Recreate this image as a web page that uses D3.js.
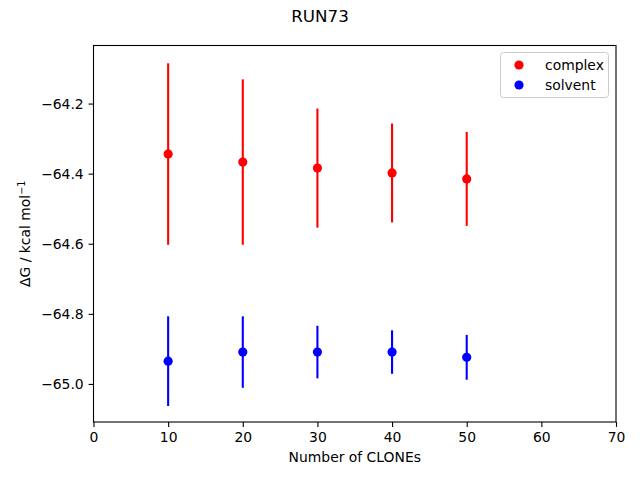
<!DOCTYPE html>
<html>
<head>
<meta charset="utf-8">
<script src="https://cdn.jsdelivr.net/npm/d3@7"></script>
<style>
  body { margin: 0; background: #fff; }
  svg text { font-family: "DejaVu Sans", sans-serif; fill: #000; }
</style>
</head>
<body>
<svg id="chart" width="640" height="480"></svg>
<script>
// number of clones
const clones = [10, 20, 30, 40, 50];

// complex leg
const complexMean = [-64.344, -64.367, -64.384, -64.398, -64.415];
const complexErr = [0.259, 0.236, 0.170, 0.141, 0.134];

// solvent leg
const solventMean = [-64.935, -64.909, -64.909, -64.909, -64.924];
const solventErr = [0.128, 0.102, 0.075, 0.062, 0.064];

const xTicks = [0, 10, 20, 30, 40, 50, 60, 70];
const yTicks = [-64.2, -64.4, -64.6, -64.8, -65.0];

const svg = d3.select("#chart");
const margin = { left: 93.5, right: 616, top: 45.5, bottom: 422 };

const x = d3.scaleLinear().domain([0, 70]).range([margin.left, margin.right]);
const y = d3.scaleLinear().domain([-65.1086, -64.0343]).range([margin.bottom, margin.top]);

// axes
svg.append("g")
  .attr("transform", `translate(0,${margin.bottom})`)
  .call(d3.axisBottom(x).tickValues(xTicks).tickSize(4.9).tickPadding(4.9).tickFormat(d3.format("d")))
  .call((g) => g.select(".domain").remove());

svg.append("g")
  .attr("transform", `translate(${margin.left},0)`)
  .call(d3.axisLeft(y).tickValues(yTicks).tickSize(4.9).tickPadding(4.9)
    .tickFormat((d) => d3.format(".1f")(d).replace("-", "\u2212")))
  .call((g) => g.select(".domain").remove());

svg.selectAll(".tick text").style("font-size", "13.9px").style("font-family", "DejaVu Sans");
svg.selectAll(".tick line").attr("stroke", "#000").attr("stroke-width", 1.1);

function drawSeries(means, errs, colour) {
  const g = svg.append("g");
  g.selectAll("line")
    .data(clones)
    .join("line")
    .attr("x1", (d) => x(d))
    .attr("x2", (d) => x(d))
    .attr("y1", (d, i) => y(means[i] - errs[i]))
    .attr("y2", (d, i) => y(means[i] + errs[i]))
    .attr("stroke", colour)
    .attr("stroke-width", 2.1);
  g.selectAll("circle")
    .data(clones)
    .join("circle")
    .attr("cx", (d) => x(d))
    .attr("cy", (d, i) => y(means[i]))
    .attr("r", 4.6)
    .attr("fill", colour);
}

drawSeries(complexMean, complexErr, "#ff0000");
drawSeries(solventMean, solventErr, "#0000ff");

// frame
svg.append("rect")
  .attr("x", margin.left)
  .attr("y", margin.top)
  .attr("width", margin.right - margin.left)
  .attr("height", margin.bottom - margin.top)
  .attr("fill", "none")
  .attr("stroke", "#000")
  .attr("stroke-width", 1.1);

// legend
const legend = svg.append("g");
legend.append("rect")
  .attr("x", 500.5).attr("y", 52.5)
  .attr("width", 108).attr("height", 45)
  .attr("rx", 3)
  .attr("fill", "#fff").attr("fill-opacity", 0.8)
  .attr("stroke", "#ccc").attr("stroke-width", 1);
[["complex", "#ff0000"], ["solvent", "#0000ff"]].forEach(([label, colour], i) => {
  legend.append("circle")
    .attr("cx", 519).attr("cy", 65 + i * 20).attr("r", 4.6).attr("fill", colour);
  legend.append("text")
    .attr("x", 545).attr("y", 69.5 + i * 20)
    .style("font-size", "13.9px")
    .text(label);
});

// titles
svg.append("text")
  .attr("x", 320).attr("y", 22)
  .attr("text-anchor", "middle")
  .style("font-size", "16.7px")
  .text("RUN73");

svg.append("text")
  .attr("x", (margin.left + margin.right) / 2).attr("y", 462)
  .attr("text-anchor", "middle")
  .style("font-size", "13.9px")
  .text("Number of CLONEs");

const yl = svg.append("text")
  .attr("transform", `translate(30,${(margin.top + margin.bottom) / 2}) rotate(-90)`)
  .attr("text-anchor", "middle")
  .style("font-size", "13.9px");
yl.append("tspan").text("\u0394G / kcal mol");
yl.append("tspan").attr("dy", -5).style("font-size", "9.7px").text("\u22121");
</script>
</body>
</html>
